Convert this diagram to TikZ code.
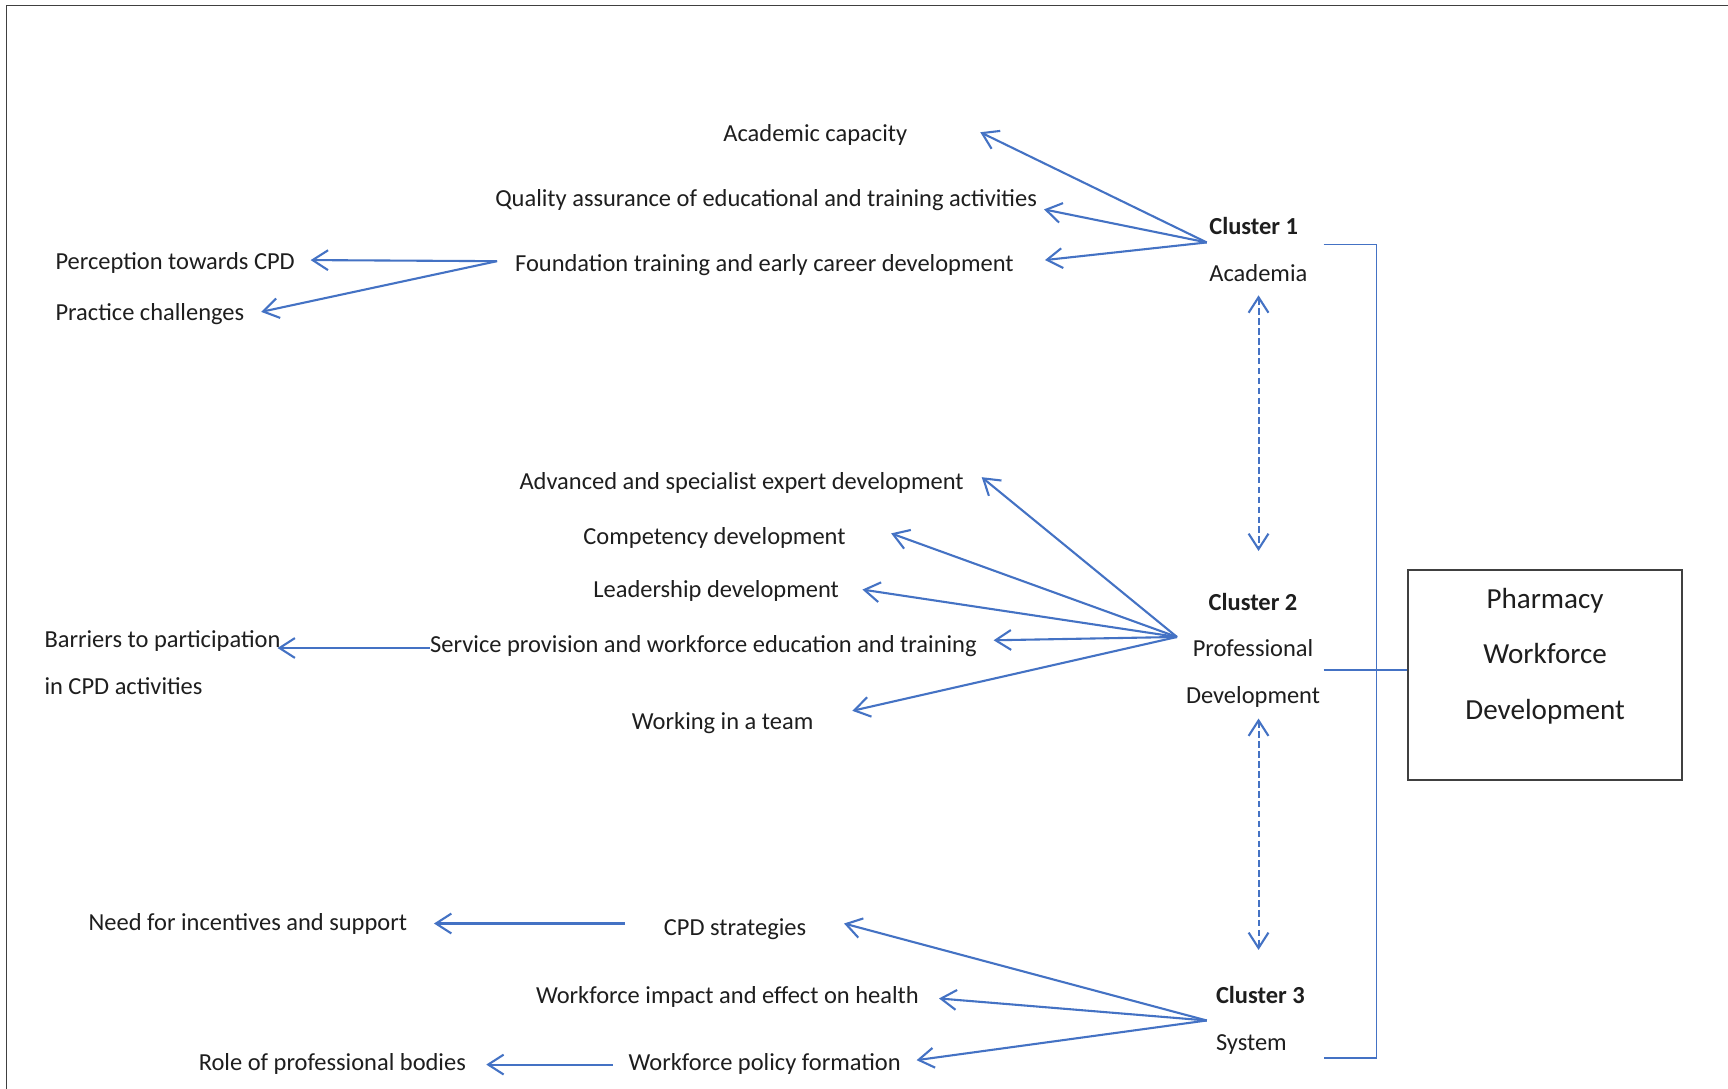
\documentclass[tikz,border=0pt]{standalone}
\usepackage{fontspec}
\setmainfont{Carlito}
\usetikzlibrary{arrows.meta,calc}
\definecolor{lblue}{RGB}{68,114,196}
\definecolor{frm}{RGB}{64,64,64}
\definecolor{txt}{RGB}{30,30,30}
\begin{document}
\begin{tikzpicture}[x=0.5pt,y=-0.5pt,
  lbl/.style={inner sep=0pt, anchor=west, text height=9pt, text depth=2pt,
              font=\fontsize{11.1}{13}\selectfont, text=txt},
  clbl/.style={lbl, anchor=center},
  boxtxt/.style={inner sep=0pt, font=\fontsize{13.2}{16}\selectfont, text=txt, text height=10pt, text depth=3pt},
  arr/.style={draw=lblue, line width=0.95pt, -{Straight Barb[length=7pt,width=9pt]}},
  darr/.style={draw=lblue, line width=0.95pt, dash pattern=on 3pt off 1.5pt,
               {Straight Barb[length=7pt,width=9pt]}-{Straight Barb[length=7pt,width=9pt]}},
  brk/.style={draw=lblue, line width=0.7pt}
]
\useasboundingbox (0,0) rectangle (1568,988);
\fill[white] (0,0) rectangle (1568,988);
\draw[frm, line width=0.8pt] (6,990) -- (6,5) -- (1570,5);

% Cluster 1
\node[lbl] (ac)  at (656,121) {Academic capacity};
\node[lbl] (qa)  at (449,180) {Quality assurance of educational and training activities};
\node[lbl] (ft)  at (467,239) {Foundation training and early career development};
\node[lbl] (pc)  at (50,238) {Perception towards CPD};
\node[lbl] (pch) at (50,284) {Practice challenges};
\node[lbl, font=\fontsize{11.1}{13}\selectfont\bfseries] (c1) at (1097,206) {Cluster 1};
\node[lbl] (aca) at (1097,248) {Academia};
\coordinate (h1) at (1095,220);

% Cluster 2
\node[lbl] (adv)  at (471,437) {Advanced and specialist expert development};
\node[lbl] (comp) at (529,487) {Competency development};
\node[lbl] (lead) at (538,535) {Leadership development};
\node[lbl] (serv) at (390,585) {Service provision and workforce education and training};
\node[lbl] (team) at (573,655) {Working in a team};
\node[lbl] (bar)  at (40,581) {Barriers to participation};
\node[lbl] (bar2) at (40,623) {in CPD activities};
\node[clbl, font=\fontsize{11.1}{13}\selectfont\bfseries] (c2) at (1137,547) {Cluster 2};
\node[clbl] (prof) at (1137,589) {Professional};
\node[clbl] (dev)  at (1137,631) {Development};
\coordinate (h2) at (1068,578);

% Cluster 3
\node[lbl] (cpd)  at (602,842) {CPD strategies};
\node[lbl] (wih)  at (486,904) {Workforce impact and effect on health};
\node[lbl] (wpf)  at (570,964) {Workforce policy formation};
\node[lbl] (need) at (80,837) {Need for incentives and support};
\node[lbl] (role) at (180,964) {Role of professional bodies};
\node[lbl, font=\fontsize{11.1}{13}\selectfont\bfseries] (c3) at (1103,904) {Cluster 3};
\node[lbl] (sys) at (1103,946) {System};
\coordinate (h3) at (1095,926);

% Main box
\node[draw=frm, line width=0.9pt, minimum width=124pt, minimum height=95.5pt, inner sep=0pt] (box) at (1402,612.5) {};
\node[boxtxt] (p1) at (1402,545) {Pharmacy};
\node[boxtxt] (p2) at (1402,595) {Workforce};
\node[boxtxt] (p3) at (1402,646) {Development};

% Arrows cluster 1
\draw[arr] (h1) -- ($(ac.east)+(66,-1)$);
\draw[arr] (h1) -- ($(qa.east)+(6,10)$);
\draw[arr] (h1) -- ($(ft.east)+(28,-3)$);
\draw[arr] ($(ft.west)+(-16,-2)$) -- ($(pc.east)+(14,-2)$);
\draw[arr] ($(ft.west)+(-16,-2)$) -- ($(pch.east)+(15,-1)$);

% Arrows cluster 2
\draw[arr] (h2) -- ($(adv.east)+(16,-4)$);
\draw[arr] (h2) -- ($(comp.east)+(41,-3)$);
\draw[arr] (h2) -- ($(lead.east)+(21,0)$);
\draw[arr] (h2) -- ($(serv.east)+(15,-4)$);
\draw[arr] (h2) -- ($(team.east)+(35,-10)$);
\draw[arr] ($(serv.west)+(0,3)$) -- ($(bar.east)+(-3,7)$);

% Arrows cluster 3
\draw[arr] (h3) -- ($(cpd.east)+(34,-4)$);
\draw[arr] (h3) -- ($(wih.east)+(18,2)$);
\draw[arr] (h3) -- ($(wpf.east)+(14,-2)$);
\draw[arr] ($(cpd.west)+(-35,-4)$) -- ($(need.east)+(24,1)$);
\draw[arr] ($(wpf.west)+(-14,2)$) -- ($(role.east)+(18,2)$);

% Dashed double arrows
\coordinate (d1a) at (1142,268);
\coordinate (d1b) at (1142,500);
\coordinate (d2a) at (1142,652);
\coordinate (d2b) at (1142,862);
\draw[darr] (d1a) -- (d1b);
\draw[darr] (d2a) -- (d2b);

% Bracket
\coordinate (bt) at (1249,222);
\coordinate (bb) at (1249,960);
\coordinate (bm) at (1249,608);
\draw[brk] (1201,222) -- (bt) -- (bb) -- (1201,960);
\draw[brk] (1201,608) -- (bm -| box.west);
\end{tikzpicture}
\end{document}
